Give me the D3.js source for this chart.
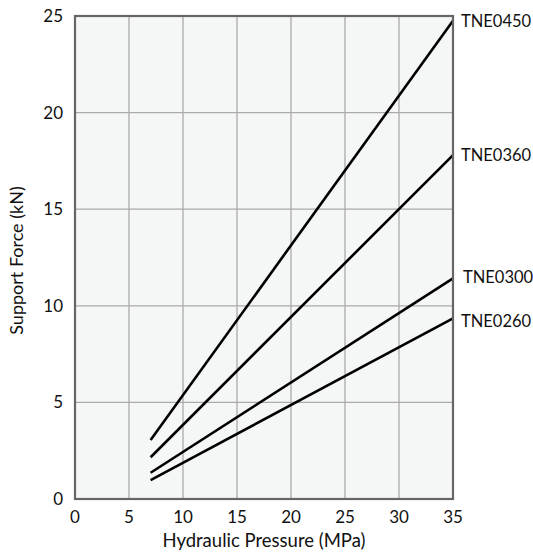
<!DOCTYPE html>
<html><head><meta charset="utf-8">
<script src="https://cdn.jsdelivr.net/npm/d3@7"></script>
<style>body{margin:0;background:#fff}svg{display:block}text{font-family:Lato,"Open Sans",sans-serif;fill:#111}</style>
</head><body><svg id="c" width="533" height="554"></svg>
<script>
const models = ["TNE0450","TNE0360","TNE0300","TNE0260"];
const pressure = [7, 35];
const force0450 = [3.05, 24.76];
const force0360 = [2.16, 17.8];
const force0300 = [1.36, 11.42];
const force0260 = [0.98, 9.35];
const xTicks = [0,5,10,15,20,25,30,35];
const yTicks = [0,5,10,15,20,25];
const series = [force0450, force0360, force0300, force0260];

const svg = d3.select("#c");
const L=75, R=453, T=16, B=499;
const x = d3.scaleLinear().domain([0,35]).range([L,R]);
const y = d3.scaleLinear().domain([0,25]).range([B,T]);

svg.append("rect").attr("x",L).attr("y",T).attr("width",R-L).attr("height",B-T).attr("fill","#f5f7f6");
const g = svg.append("g");
g.selectAll(".gx").data(xTicks.slice(1,-1)).enter().append("line")
 .attr("x1",d=>x(d)).attr("x2",d=>x(d)).attr("y1",T).attr("y2",B).attr("stroke","#aaa").attr("stroke-width",1.3);
g.selectAll(".gy").data(yTicks.slice(1,-1)).enter().append("line")
 .attr("y1",d=>y(d)).attr("y2",d=>y(d)).attr("x1",L).attr("x2",R).attr("stroke","#aaa").attr("stroke-width",1.3);

const line = d3.line().x(d=>x(d[0])).y(d=>y(d[1]));
series.forEach((s,i)=>{
  svg.append("path").datum(pressure.map((p,j)=>[p,s[j]])).attr("d",line)
   .attr("fill","none").attr("stroke","#000").attr("stroke-width",2.6);
});
svg.append("rect").attr("x",L).attr("y",T).attr("width",R-L).attr("height",B-T).attr("fill","none").attr("stroke","#666").attr("stroke-width",2.2);

svg.selectAll(".xt").data(xTicks).enter().append("text")
 .attr("x",d=>x(d)).attr("y",B+24).attr("text-anchor","middle").attr("font-size",17).text(d=>d);
svg.selectAll(".yt").data(yTicks).enter().append("text")
 .attr("x",L-12).attr("y",d=>y(d)+6).attr("text-anchor","end").attr("font-size",17).text(d=>d);

const labelDx = [8,8,10,8];
const labelDy = [6,6,4.5,8.5];
series.forEach((s,i)=>{
  svg.append("text").attr("x",R+labelDx[i]).attr("y",y(s[1])+labelDy[i]).attr("font-size",16.5).text(models[i]);
});

svg.append("text").attr("x",(L+R)/2).attr("y",547).attr("text-anchor","middle").attr("font-size",18.5).text("Hydraulic Pressure (MPa)");
svg.append("text").attr("transform",`translate(23,${(T+B)/2+3}) rotate(-90)`).attr("text-anchor","middle").attr("font-size",18).text("Support Force (kN)");
</script></body></html>
